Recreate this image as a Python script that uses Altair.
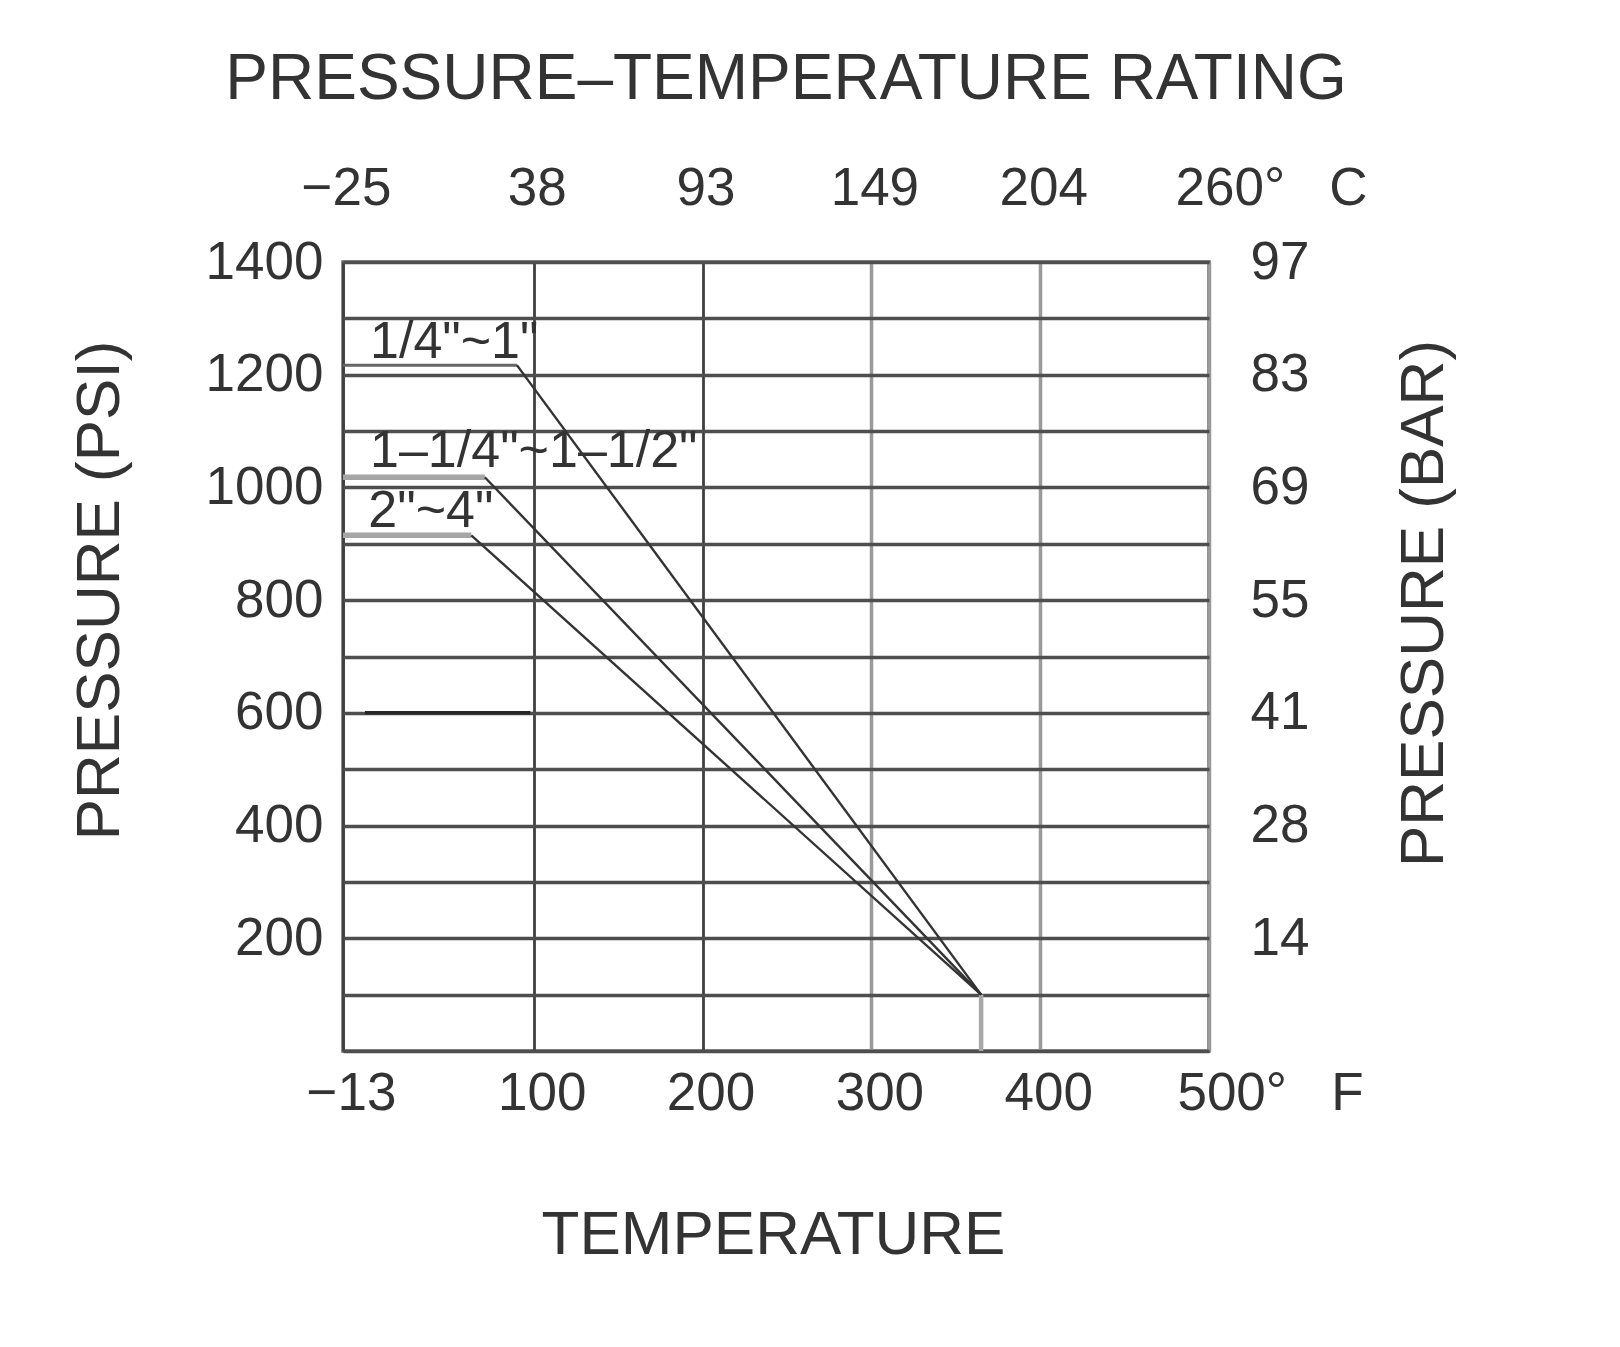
import altair as alt
import pandas as pd

# ---------------- data ----------------
series_names = ['1/4"~1"', '1–1/4"~1–1/2"', '2"~4"']
plateau_psi = [1217, 1018, 915]        # flat rating (psi) from -13 °F
plateau_end_f = [90, 71, 63]           # °F where the rating starts to drop
label_f = [3, 3, 2]                    # series label anchor (°F)
label_psi = [1230, 1036, 930]          # series label anchor (psi)
start_f = -13
converge_f = 365
converge_psi = 100
seg600_f = [0, 98]                     # dark segment drawn on the 600 psi line
seg600_psi = 600

temp_f_ticks = [-13, 100, 200, 300, 400, 500]
temp_c_labels = ['−25', '38', '93', '149', '204', '260']
psi_grid = list(range(0, 1500, 100))
psi_ticks = [200, 400, 600, 800, 1000, 1200, 1400]
bar_labels = ['14', '28', '41', '55', '69', '83', '97']

# ---------------- tables ----------------
plateaus = pd.DataFrame({'series': series_names, 'x': [start_f] * 3,
                         'x2': plateau_end_f, 'y': plateau_psi})
diagonals = pd.DataFrame({'series': series_names, 'x': plateau_end_f, 'y': plateau_psi,
                          'x2': [converge_f] * 3, 'y2': [converge_psi] * 3})
labels = pd.DataFrame({'series': series_names, 'x': label_f, 'y': label_psi})
drop = pd.DataFrame({'x': [converge_f], 'y': [converge_psi], 'y2': [0]})
seg = pd.DataFrame({'x': [seg600_f[0]], 'x2': [seg600_f[1]], 'y': [seg600_psi]})

FONT = 'Liberation Sans'
TXT = '#333333'
NB = '\u00a0'

xscale = alt.Scale(domain=[-13, 500], nice=False, zero=False)
yscale = alt.Scale(domain=[0, 1400], nice=False, zero=False)

# label expressions
c_expr = "''"
for f, c in reversed(list(zip(temp_f_ticks, temp_c_labels))):
    lab = c + '°' + NB * 3 + 'C' if f == 500 else c
    c_expr = f"datum.value === {f} ? '{lab}' : ({c_expr})"
bar_expr = "''"
for p, b in reversed(list(zip(psi_ticks, bar_labels))):
    bar_expr = f"datum.value === {p} ? '{b}' : ({bar_expr})"
f_expr = "datum.value === 500 ? '500°" + NB * 3 + "F' : datum.label"
psi_expr = "datum.value > 0 && datum.value % 200 === 0 ? datum.label : ''"

common = dict(labelFont=FONT, labelFontSize=53, labelColor=TXT, labelFontWeight='normal',
              titleFont=FONT, titleFontSize=62, titleColor=TXT, titleFontWeight='normal',
              domain=False, ticks=False, tickSize=0, labelOverlap=False, labelBound=False,
              labelFlush=False, labelLimit=600, titleLimit=1000)

bottom_axis = alt.Axis(
    orient='bottom', values=temp_f_ticks, format='d', labelExpr=f_expr,
    labelOffset={"condition": {"test": "datum.value === 500", "value": 61}, "value": 8},
    labelPadding=58, labelBaseline='alphabetic',
    title='TEMPERATURE', titleX=430, titleY=202, titleAlign='center', titleBaseline='alphabetic',
    grid=True,
    gridColor={"condition": {"test": "datum.value >= 300", "value": "#9a9a9a"}, "value": "#404040"},
    gridWidth={"condition": {"test": "datum.value >= 300", "value": 3.5}, "value": 2.8},
    **common,
)
left_axis = alt.Axis(
    orient='left', values=psi_grid, format='d', labelExpr=psi_expr,
    labelPadding=20, title='PRESSURE (PSI)', titleX=-244, titleY=328, titleAngle=270,
    titleAlign='center', titleBaseline='middle',
    grid=True, gridColor='#4e4e4e', gridWidth=3.5,
    **common,
)
top_axis = alt.Axis(
    orient='top', values=temp_f_ticks, labelExpr=c_expr,
    labelOffset={"condition": {"test": "datum.value === 500", "value": 62}, "value": 3},
    labelPadding=58, labelBaseline='alphabetic', grid=False,
    **common,
)
right_axis = alt.Axis(
    orient='right', values=psi_ticks, labelExpr=bar_expr, labelPadding=41,
    title='PRESSURE (BAR)', titleX=214, titleY=341, titleAngle=270,
    titleAlign='center', titleBaseline='middle', grid=False,
    **common,
)

diag_layer = alt.Chart(diagonals).mark_rule(color='#333333', strokeWidth=2.4).encode(
    x=alt.X('x:Q', scale=xscale, axis=bottom_axis),
    y=alt.Y('y:Q', scale=yscale, axis=left_axis),
    x2='x2:Q', y2='y2:Q',
)

plat1 = alt.Chart(plateaus).transform_filter(alt.datum.series == series_names[0]).mark_rule(
    color='#666666', strokeWidth=3).encode(
    x=alt.X('x:Q', scale=xscale, axis=None), x2='x2:Q',
    y=alt.Y('y:Q', scale=yscale, axis=None),
)
plat23 = alt.Chart(plateaus).transform_filter(alt.datum.series != series_names[0]).mark_rule(
    color='#a6a6a6', strokeWidth=5.5).encode(
    x=alt.X('x:Q', scale=xscale, axis=None), x2='x2:Q',
    y=alt.Y('y:Q', scale=yscale, axis=None),
)
drop_layer = alt.Chart(drop).mark_rule(color='#a8a8a8', strokeWidth=4.5).encode(
    x=alt.X('x:Q', scale=xscale, axis=None),
    y=alt.Y('y:Q', scale=yscale, axis=None), y2='y2:Q',
)
seg_layer = alt.Chart(seg).mark_rule(color='#262626', strokeWidth=3.5).encode(
    x=alt.X('x:Q', scale=xscale, axis=None), x2='x2:Q',
    y=alt.Y('y:Q', scale=yscale, axis=None),
)
text_layer = alt.Chart(labels).mark_text(
    align='left', baseline='alphabetic', font=FONT, fontSize=52, color=TXT).encode(
    x=alt.X('x:Q', scale=xscale, axis=top_axis, title=None),
    y=alt.Y('y:Q', scale=yscale, axis=right_axis),
    text='series:N',
)

chart = alt.layer(
    plat23, plat1, seg_layer, drop_layer, diag_layer, text_layer
).resolve_axis(
    x='independent', y='independent'
).properties(
    width=866, height=789,
    background='white',
    autosize=alt.AutoSizeParams(type='none'),
    padding={'left': 343, 'top': 262, 'right': 411, 'bottom': 296},
    title=alt.Title('PRESSURE–TEMPERATURE RATING', font=FONT, fontSize=64,
                    fontWeight='normal', color=TXT, anchor='middle', offset=50, dx=10),
).configure_view(
    stroke='#6a6a6a', strokeWidth=3.5
)

chart.save('out.html', embed_options={'renderer': 'svg', 'actions': False})
